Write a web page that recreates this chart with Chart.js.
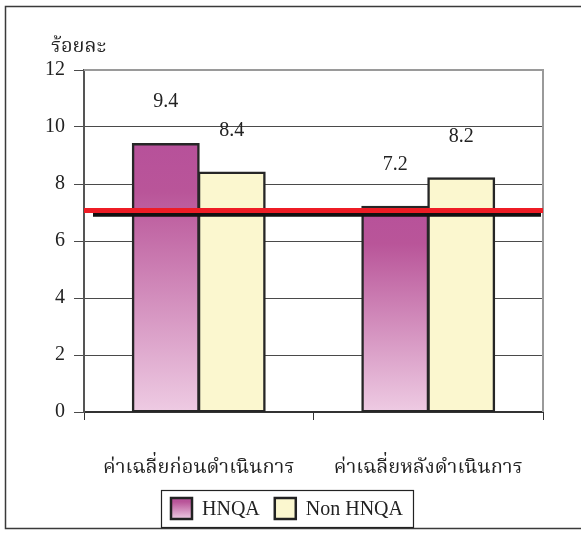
<!DOCTYPE html>
<html>
<head>
<meta charset="utf-8">
<script src="https://cdn.jsdelivr.net/npm/chart.js@4.4.1/dist/chart.umd.min.js"></script>
<style>
  html, body { margin: 0; padding: 0; background: #fff; }
  #wrap { width: 581px; height: 534px; position: relative; }
</style>
</head>
<body>
<div id="wrap"><canvas id="chart" width="581" height="534"></canvas></div>
<script>
// Categories, series and axis settings
const categories = ['ค่าเฉลี่ยก่อนดำเนินการ', 'ค่าเฉลี่ยหลังดำเนินการ'];
const seriesNames = ['HNQA', 'Non HNQA'];
const hnqaValues = [9.4, 7.2];
const nonHnqaValues = [8.4, 8.2];
const yTicks = [0, 2, 4, 6, 8, 10, 12];
const yTitle = 'ร้อยละ';
// Horizontal reference lines (red above, black below)
const refLineValues = [7.07, 6.92];

const SERIF = '"Liberation Serif", "Noto Serif Thai", "Norasi", "TLWG Typo", "Times New Roman", serif';
const FONT_SIZE = 20;

function hnqaGradient(ctx, top, bottom) {
  const g = ctx.createLinearGradient(0, top, 0, bottom);
  g.addColorStop(0, '#b7519a');
  g.addColorStop(0.18, '#b95599');
  g.addColorStop(1, '#eecbe3');
  return g;
}

const decorations = {
  id: 'decorations',
  beforeDraw(chart) {
    const c = chart.ctx;
    c.save();
    c.fillStyle = '#fff';
    c.fillRect(0, 0, chart.width, chart.height);
    // outer frame
    c.strokeStyle = '#3a3a3a';
    c.lineWidth = 1.5;
    c.beginPath();
    c.moveTo(chart.width + 5, 6.5);
    c.lineTo(5.5, 6.5);
    c.lineTo(5.5, 528.5);
    c.lineTo(chart.width + 5, 528.5);
    c.stroke();
    c.restore();
  },
  afterDatasetsDraw(chart) {
    const c = chart.ctx;
    const area = chart.chartArea;
    const y = chart.scales.y;
    c.save();
    // plot area top and right edges
    c.strokeStyle = '#9a9a9a';
    c.lineWidth = 2;
    c.beginPath();
    c.moveTo(area.left, area.top);
    c.lineTo(area.right, area.top);
    c.lineTo(area.right, area.bottom);
    c.stroke();

    // reference lines
    const redY = y.getPixelForValue(refLineValues[0]);
    const blackY = y.getPixelForValue(refLineValues[1]);
    c.lineCap = 'butt';
    c.strokeStyle = '#111';
    c.lineWidth = 4;
    c.beginPath();
    c.moveTo(area.left + 9, blackY);
    c.lineTo(area.right - 2, blackY);
    c.stroke();
    c.strokeStyle = '#ee1c25';
    c.lineWidth = 5;
    c.beginPath();
    c.moveTo(area.left, redY);
    c.lineTo(area.right, redY);
    c.stroke();

    // value labels above bars
    c.fillStyle = '#222';
    c.font = FONT_SIZE + 'px ' + SERIF;
    c.textAlign = 'center';
    c.textBaseline = 'middle';
    chart.data.datasets.forEach((ds, di) => {
      const meta = chart.getDatasetMeta(di);
      meta.data.forEach((bar, i) => {
        c.fillText(ds.data[i].toFixed(1), bar.x, bar.y - 42);
      });
    });

    // y axis title
    c.textAlign = 'left';
    c.textBaseline = 'alphabetic';
    c.fillText(yTitle, 51, 52);

    // legend
    const boxH = 37, top = 490, sq = 21;
    c.font = FONT_SIZE + 'px ' + SERIF;
    const w0 = c.measureText(seriesNames[0]).width;
    const w1 = c.measureText(seriesNames[1]).width;
    const padL = 10, gapSq = 10, gapItem = 15, padR = 10;
    const totalW = padL + sq + gapSq + w0 + gapItem + sq + gapSq + w1 + padR;
    const left = Math.round(287 - totalW / 2);
    c.strokeStyle = '#222';
    c.lineWidth = 1.2;
    c.strokeRect(left + 0.5, top + 0.5, totalW, boxH);
    const sqTop = top + (boxH - sq) / 2;
    let x = left + padL;
    c.fillStyle = hnqaGradient(c, sqTop, sqTop + sq);
    c.fillRect(x, sqTop, sq, sq);
    c.strokeStyle = '#222';
    c.lineWidth = 2.5;
    c.strokeRect(x, sqTop, sq, sq);
    x += sq + gapSq;
    c.fillStyle = '#222';
    c.textBaseline = 'middle';
    c.fillText(seriesNames[0], x, top + boxH / 2 + 1);
    x += w0 + gapItem;
    c.fillStyle = '#fbf7cf';
    c.fillRect(x, sqTop, sq, sq);
    c.strokeRect(x, sqTop, sq, sq);
    x += sq + gapSq;
    c.fillStyle = '#222';
    c.fillText(seriesNames[1], x, top + boxH / 2 + 1);
    c.restore();
  }
};

new Chart(document.getElementById('chart'), {
  type: 'bar',
  data: {
    labels: categories,
    datasets: [
      {
        label: seriesNames[0],
        data: hnqaValues,
        backgroundColor(ctx) {
          const chart = ctx.chart;
          if (!chart.chartArea || ctx.dataIndex === undefined) return '#c57ab0';
          const ys = chart.scales.y;
          const v = ctx.dataset.data[ctx.dataIndex];
          return hnqaGradient(chart.ctx, ys.getPixelForValue(v), ys.getPixelForValue(0));
        },
        borderColor: '#262626',
        borderWidth: 2.5,
        borderSkipped: false,
        inflateAmount: 1,
        categoryPercentage: 0.575,
        barPercentage: 1
      },
      {
        label: seriesNames[1],
        data: nonHnqaValues,
        backgroundColor: '#fbf7cf',
        borderColor: '#262626',
        borderWidth: 2.5,
        borderSkipped: false,
        inflateAmount: 1,
        categoryPercentage: 0.575,
        barPercentage: 1
      }
    ]
  },
  options: {
    responsive: false,
    animation: false,
    layout: { padding: { left: 0, top: 70, right: 38, bottom: 0 } },
    plugins: {
      legend: { display: false },
      tooltip: { enabled: false }
    },
    scales: {
      x: {
        grid: { offset: true, drawOnChartArea: false, tickLength: 8, color: '#333', lineWidth: 1 },
        border: { color: '#333', width: 2 },
        ticks: {
          color: '#222',
          padding: 36,
          font: { family: SERIF, size: FONT_SIZE }
        },
        afterFit(scale) { scale.height = 122; }
      },
      y: {
        min: 0,
        max: 12,
        afterBuildTicks(scale) { scale.ticks = yTicks.map(v => ({ value: v })); },
        grid: { color: '#4a4a4a', lineWidth: 1, tickLength: 10 },
        border: { color: '#555', width: 2 },
        ticks: {
          color: '#222',
          padding: 9,
          font: { family: SERIF, size: FONT_SIZE }
        },
        afterFit(scale) { scale.width = 84; }
      }
    }
  },
  plugins: [decorations]
});
</script>
</body>
</html>
